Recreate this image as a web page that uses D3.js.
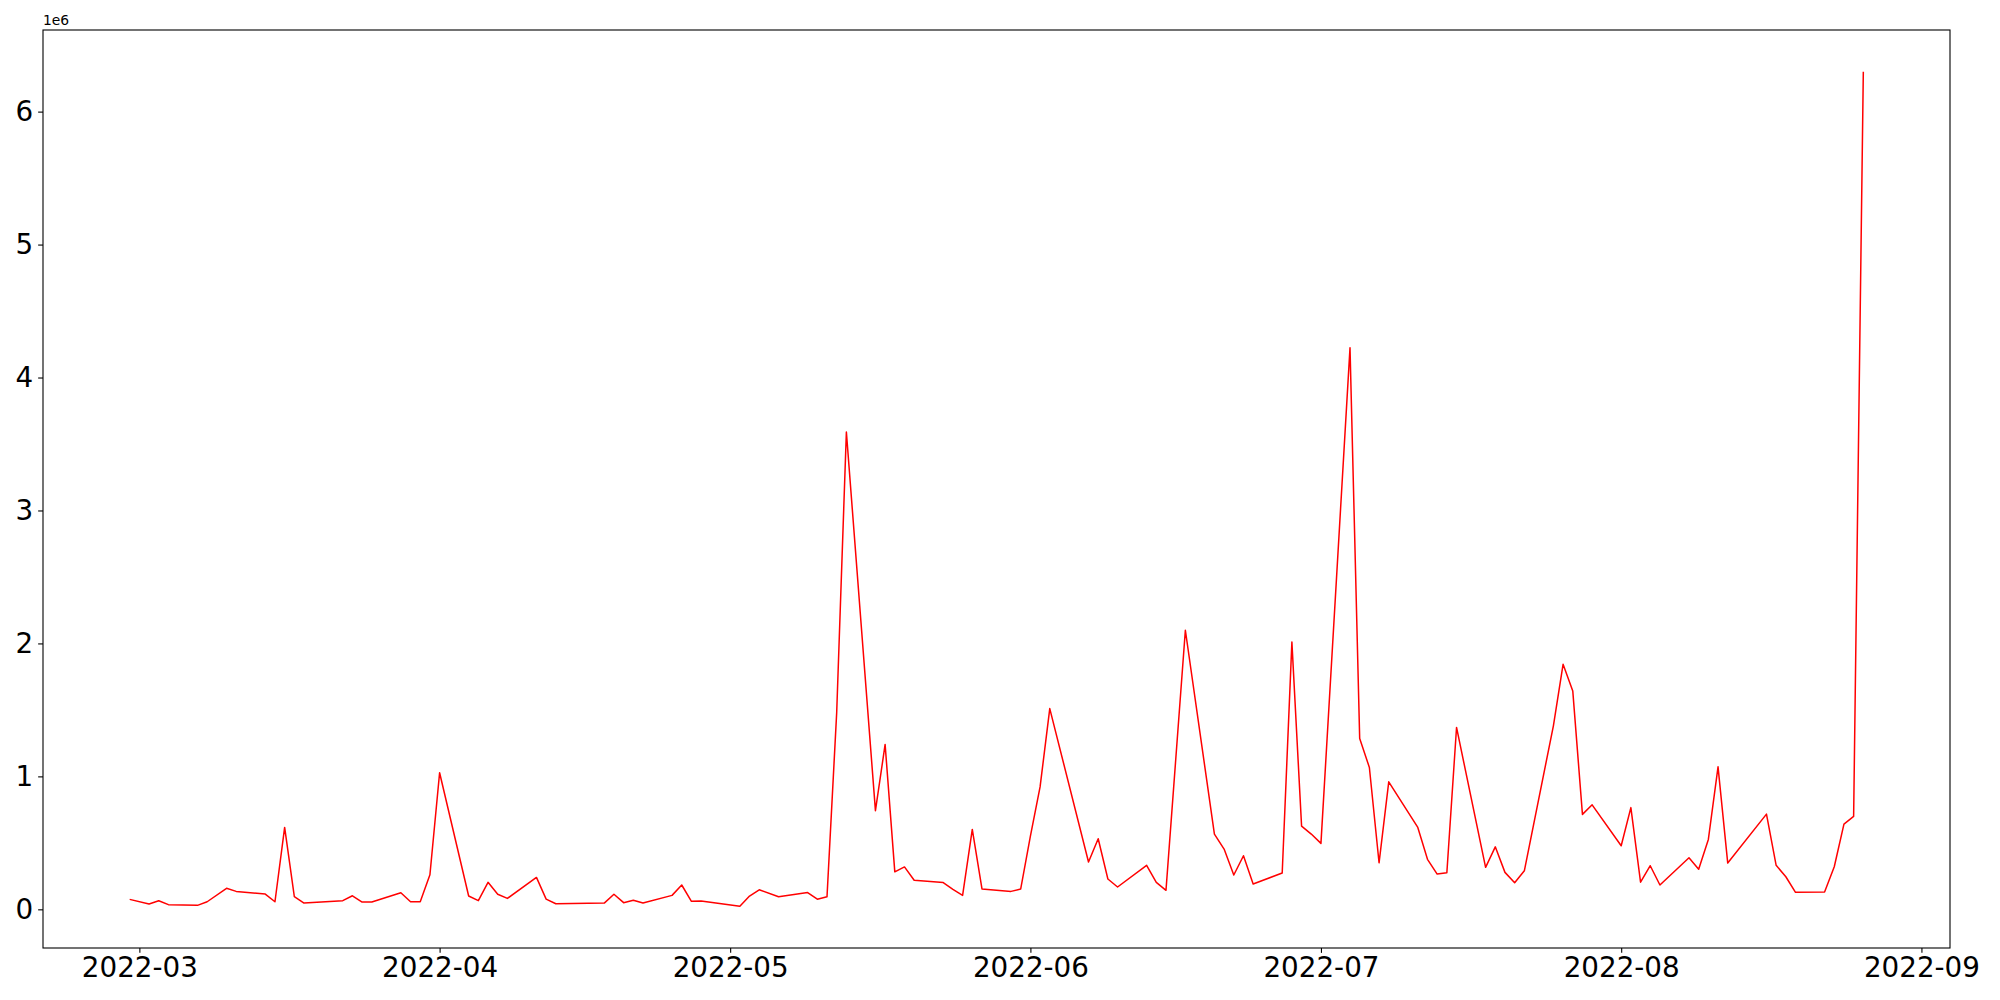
<!DOCTYPE html>
<html>
<head>
<meta charset="utf-8">
<script src="https://cdn.jsdelivr.net/npm/d3@7"></script>
<style>
  body { margin: 0; background: #fff; }
  text { font-family: "DejaVu Sans", sans-serif; fill: #000; }
</style>
</head>
<body>
<svg id="chart" width="2000" height="1000"></svg>
<script>
// DAILY SERIES
var dates = [
  "2022-02-28","2022-03-02","2022-03-03","2022-03-04","2022-03-07","2022-03-08","2022-03-10","2022-03-11",
  "2022-03-14","2022-03-15","2022-03-16","2022-03-17","2022-03-18","2022-03-22","2022-03-23","2022-03-24",
  "2022-03-25","2022-03-28","2022-03-29","2022-03-30","2022-03-31","2022-04-01","2022-04-04","2022-04-05",
  "2022-04-06","2022-04-07","2022-04-08","2022-04-11","2022-04-12","2022-04-13","2022-04-18","2022-04-19",
  "2022-04-20","2022-04-21","2022-04-22","2022-04-25","2022-04-26","2022-04-27","2022-04-28","2022-05-02",
  "2022-05-03","2022-05-04","2022-05-06","2022-05-09","2022-05-10","2022-05-11","2022-05-12","2022-05-13",
  "2022-05-16","2022-05-17","2022-05-18","2022-05-19","2022-05-20","2022-05-23","2022-05-24","2022-05-25",
  "2022-05-26","2022-05-27","2022-05-30","2022-05-31","2022-06-01","2022-06-02","2022-06-03","2022-06-07",
  "2022-06-08","2022-06-09","2022-06-10","2022-06-13","2022-06-14","2022-06-15","2022-06-17","2022-06-20",
  "2022-06-21","2022-06-22","2022-06-23","2022-06-24","2022-06-27","2022-06-28","2022-06-29","2022-06-30",
  "2022-07-01","2022-07-04","2022-07-05","2022-07-06","2022-07-07","2022-07-08","2022-07-11","2022-07-12",
  "2022-07-13","2022-07-14","2022-07-15","2022-07-18","2022-07-19","2022-07-20","2022-07-21","2022-07-22",
  "2022-07-25","2022-07-26","2022-07-27","2022-07-28","2022-07-29","2022-08-01","2022-08-02","2022-08-03",
  "2022-08-04","2022-08-05","2022-08-08","2022-08-09","2022-08-10","2022-08-11","2022-08-12","2022-08-16",
  "2022-08-17","2022-08-18","2022-08-19","2022-08-22","2022-08-23","2022-08-24","2022-08-25","2022-08-26"
];

var values = [
  75000, 40000, 65000, 35000, 30000, 57000, 158000, 135000,
  115000, 57000, 616000, 95000, 47000, 65000, 102000, 55000,
  55000, 125000, 57000, 57000, 260000, 1027000, 100000, 65000,
  203000, 113000, 82000, 240000, 77000, 42000, 47000, 113000,
  50000, 68000, 47000, 105000, 183000, 60000, 63000, 23000,
  100000, 147000, 95000, 126000, 76000, 95000, 1480000, 3590000,
  742000, 1240000, 282000, 319000, 219000, 201000, 150000, 105000,
  601000, 153000, 135000, 153000, 550000, 921000, 1510000, 356000,
  531000, 228000, 168000, 331000, 203000, 143000, 2099000, 566000,
  453000, 258000, 403000, 190000, 273000, 2010000, 626000, 566000,
  496000, 4223000, 1285000, 1067000, 350000, 959000, 616000, 376000,
  265000, 275000, 1368000, 316000, 470000, 278000, 200000, 290000,
  1380000, 1843000, 1643000, 714000, 786000, 478000, 765000, 204000,
  328000, 183000, 388000, 301000, 526000, 1072000, 348000, 716000,
  331000, 245000, 128000, 130000, 320000, 641000, 699000, 6300000
];

var yTickValues = [0, 1e6, 2e6, 3e6, 4e6, 5e6, 6e6];
var xTickMonths = ["2022-03","2022-04","2022-05","2022-06","2022-07","2022-08","2022-09"];
var offsetLabel = "1e6";

/*

  LAYOUT

*/

var svg = d3.select("#chart");
var plot = { left: 43, top: 30, right: 1950, bottom: 948 };
var tickLen = 4.86, tickPad = 4.86, labelSize = "27.78px";

var parseDay = d3.utcParse("%Y-%m-%d");
var parseMonth = d3.utcParse("%Y-%m");
var data = dates.map(function (d, i) { return { date: parseDay(d), value: values[i] }; });

// matplotlib style 5% margins
function padded(ext) {
  var m = (ext[1] - ext[0]) * 0.05;
  return [ext[0] - m, ext[1] + m];
}

var tExt = d3.extent(data, function (d) { return +d.date; });
var x = d3.scaleUtc()
  .domain(padded(tExt).map(function (t) { return new Date(t); }))
  .range([plot.left, plot.right]);

var y = d3.scaleLinear()
  .domain(padded(d3.extent(values)))
  .range([plot.bottom, plot.top]);

//X AXIS
var xAxis = d3.axisBottom(x)
  .tickValues(xTickMonths.map(parseMonth))
  .tickFormat(d3.utcFormat("%Y-%m"))
  .tickSize(tickLen).tickSizeOuter(0).tickPadding(tickPad);

svg.append("g")
  .attr("transform", "translate(0," + plot.bottom + ")")
  .call(xAxis)
  .call(function (g) { g.select(".domain").remove(); })
  .call(function (g) {
    g.selectAll("line").attr("stroke", "#000").attr("stroke-width", 1.1);
    g.selectAll("text").style("font-size", labelSize).style("font-family", '"DejaVu Sans", sans-serif');
  });

//Y AXIS
var yAxis = d3.axisLeft(y)
  .tickValues(yTickValues)
  .tickFormat(function (v) { return v / 1e6; })
  .tickSize(tickLen).tickSizeOuter(0).tickPadding(tickPad);

svg.append("g")
  .attr("transform", "translate(" + plot.left + ",0)")
  .call(yAxis)
  .call(function (g) { g.select(".domain").remove(); })
  .call(function (g) {
    g.selectAll("line").attr("stroke", "#000").attr("stroke-width", 1.1);
    g.selectAll("text").style("font-size", labelSize).style("font-family", '"DejaVu Sans", sans-serif');
  });

//OFFSET TEXT
svg.append("text")
  .attr("x", plot.left).attr("y", plot.top - 5)
  .style("font-size", "13.89px")
  .text(offsetLabel);

//LINE
var line = d3.line()
  .x(function (d) { return x(d.date); })
  .y(function (d) { return y(d.value); });

svg.append("path")
  .datum(data)
  .attr("d", line)
  .attr("fill", "none")
  .attr("stroke", "red")
  .attr("stroke-width", 1.5)
  .attr("stroke-linejoin", "round");

//FRAME
svg.append("rect")
  .attr("x", plot.left).attr("y", plot.top)
  .attr("width", plot.right - plot.left)
  .attr("height", plot.bottom - plot.top)
  .attr("fill", "none")
  .attr("stroke", "#000")
  .attr("stroke-width", 1.1);
</script>
</body>
</html>
